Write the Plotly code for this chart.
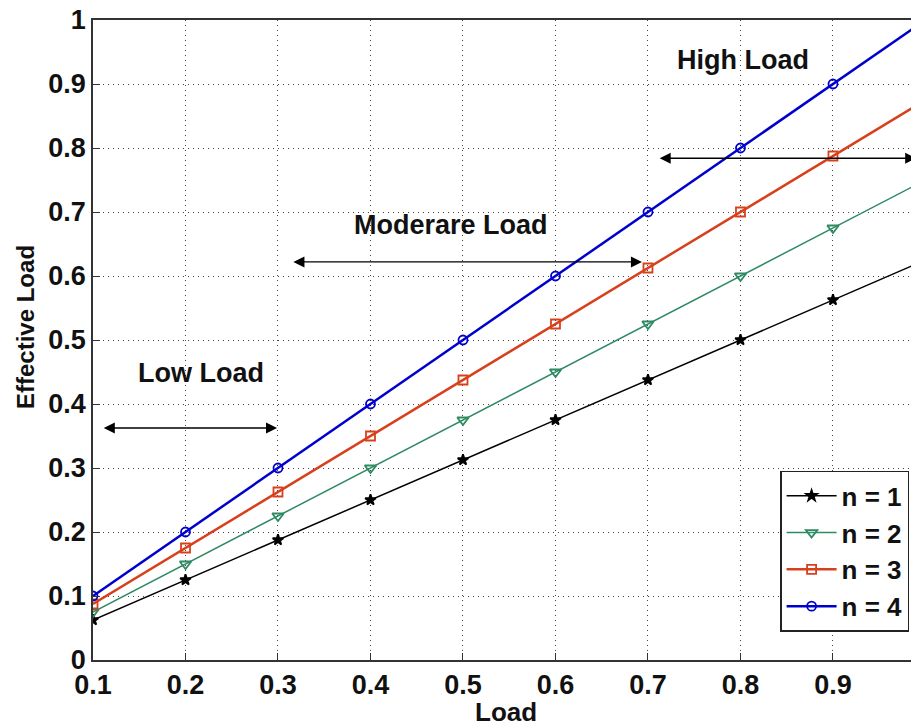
import plotly.graph_objects as go

load = [0.1, 0.2, 0.3, 0.4, 0.5, 0.6, 0.7, 0.8, 0.9, 1.0]
eff_n1 = [0.0625, 0.125, 0.1875, 0.25, 0.3125, 0.375, 0.4375, 0.5, 0.5625, 0.625]
eff_n2 = [0.075, 0.15, 0.225, 0.3, 0.375, 0.45, 0.525, 0.6, 0.675, 0.75]
eff_n3 = [0.0875, 0.175, 0.2625, 0.35, 0.4375, 0.525, 0.6125, 0.7, 0.7875, 0.875]
eff_n4 = [0.1, 0.2, 0.3, 0.4, 0.5, 0.6, 0.7, 0.8, 0.9, 1.0]
series_names = ["n = 1", "n = 2", "n = 3", "n = 4"]
xticks = [0.1, 0.2, 0.3, 0.4, 0.5, 0.6, 0.7, 0.8, 0.9]
yticks = [0, 0.1, 0.2, 0.3, 0.4, 0.5, 0.6, 0.7, 0.8, 0.9, 1]
ytick_text = ["0", "0.1", "0.2", "0.3", "0.4", "0.5", "0.6", "0.7", "0.8", "0.9", "1"]

styles = [
    dict(color="#000000", width=1.5, symbol="star", msize=8),
    dict(color="#2e8a63", width=1.5, symbol="triangle-down-open", msize=10),
    dict(color="#d8401c", width=2.5, symbol="square-open", msize=9),
    dict(color="#0000cc", width=2.5, symbol="circle-open", msize=9),
]

fig = go.Figure()
for name, ys, st in zip(series_names, [eff_n1, eff_n2, eff_n3, eff_n4], styles):
    fig.add_trace(go.Scatter(
        x=load, y=ys, name=name, mode="lines+markers",
        line=dict(color=st["color"], width=st["width"]),
        marker=dict(symbol=st["symbol"], size=st["msize"], color=st["color"],
                    line=dict(color=st["color"], width=1.8)),
    ))

font_main = "Arial, Liberation Sans, sans-serif"

def dbl_arrow(x0, x1, y):
    fig.add_annotation(x=x1, y=y, ax=x0, ay=y, xref="x", yref="y", axref="x", ayref="y",
                       text="", showarrow=True, arrowhead=2, startarrowhead=2,
                       arrowside="end+start", arrowsize=1.7, startarrowsize=1.7,
                       arrowwidth=1.3, arrowcolor="#000000")

dbl_arrow(0.11, 0.299, 0.3625)
dbl_arrow(0.315, 0.6935, 0.622)
dbl_arrow(0.711, 0.99, 0.784)

for txt, x, y in [("Low Load", 0.2168, 0.448), ("Moderare Load", 0.487, 0.68), ("High Load", 0.803, 0.9375)]:
    fig.add_annotation(x=x, y=y, xref="x", yref="y", text=txt, showarrow=False,
                       font=dict(family=font_main, size=27, color="#111111", weight="bold"))

W, H = 911, 718
L, R, T, B = 85, 0, 12, 66
plot_w = W - L - R
plot_h = H - T - B

# axis titles placed as annotations for exact placement
fig.add_annotation(x=0.5465, y=-0.081, xref="x", yref="paper", text="Load", showarrow=False,
                   yanchor="middle", font=dict(family=font_main, size=26, color="#111111", weight="bold"))
fig.add_annotation(x=(17 - L) / plot_w, y=(plot_h - 319 + T) / plot_h, xref="paper", yref="paper",
                   text="Effective Load", showarrow=False, textangle=-90,
                   xanchor="center", yanchor="middle",
                   font=dict(family=font_main, size=24, color="#111111", weight="bold"))

grid_dash = "1px,4px"
tfont = dict(size=27, family=font_main, color="#111111", weight="bold")

fig.update_layout(
    width=W, height=H,
    margin=dict(l=L, r=R, t=T, b=B),
    paper_bgcolor="white", plot_bgcolor="white",
    font=dict(family=font_main, color="#111111"),
    showlegend=True,
    legend=dict(x=0.988, y=0.044, xanchor="right", yanchor="bottom",
                bgcolor="white", bordercolor="#222222", borderwidth=1.5,
                font=dict(family=font_main, size=26, color="#111111", weight="bold"),
                tracegroupgap=0, itemwidth=50),
    xaxis=dict(range=[0.1, 0.993], tickvals=xticks,
               tickfont=tfont, ticklabeloverflow="allow",
               showgrid=True, gridcolor="#444444", griddash=grid_dash, gridwidth=1,
               ticks="inside", ticklen=7, tickcolor="#333333",
               showline=True, linecolor="#333333", linewidth=1.5, mirror=True,
               zeroline=False, automargin=False),
    yaxis=dict(range=[0, 1], tickvals=yticks, ticktext=ytick_text,
               tickfont=tfont, ticklabeloverflow="allow",
               showgrid=True, gridcolor="#444444", griddash=grid_dash, gridwidth=1,
               ticks="inside", ticklen=7, tickcolor="#333333",
               showline=True, linecolor="#333333", linewidth=1.5, mirror=False,
               zeroline=False, automargin=False),
)

fig.write_html("out.html")
